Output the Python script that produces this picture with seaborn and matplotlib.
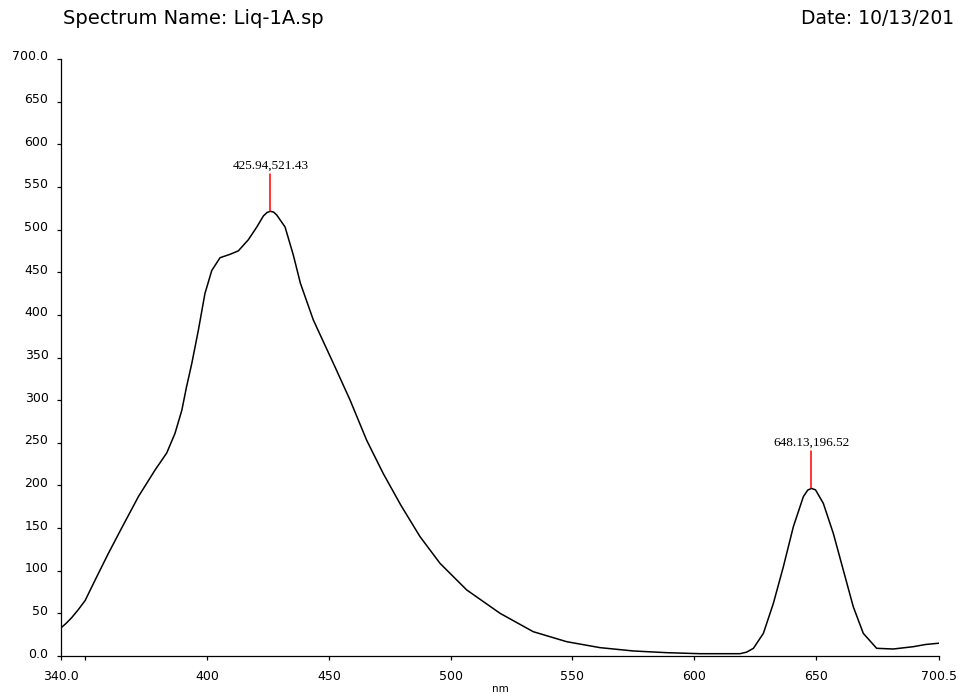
import matplotlib
matplotlib.use("Agg")
import matplotlib.pyplot as plt
import matplotlib.transforms as mtransforms
import seaborn as sns
import pandas as pd

# ---- data ----
wavelength_nm = [340.0, 342.0, 344.4, 347.0, 349.9, 354.0, 359.4, 364.9, 371.8, 378.6,
                 383.4, 386.8, 389.6, 391.5, 393.7, 396.4, 399.1, 401.9, 405.3, 409.4,
                 412.8, 416.9, 420.4, 423.1, 424.6, 425.94, 427.3, 428.6, 432.0, 435.4,
                 438.3, 443.6, 449.1, 452.5, 458.7, 465.5, 472.3, 479.5, 487.4, 495.6,
                 506.6, 520.3, 533.9, 547.6, 561.3, 575.0, 588.7, 602.4, 618.8, 621.5,
                 624.3, 628.4, 632.5, 636.6, 640.7, 644.8, 646.6, 648.13, 649.8, 653.0,
                 657.1, 661.2, 665.3, 669.4, 674.9, 681.7, 689.9, 695.0, 700.5]
intensity = [33.0, 38.0, 45.0, 54.0, 65.0, 89.0, 120.0, 150.0, 187.0, 218.0,
             238.0, 261.0, 288.0, 315.0, 343.0, 382.0, 425.0, 452.0, 467.0, 471.0,
             475.0, 488.0, 503.0, 516.0, 520.0, 521.43, 520.5, 517.0, 503.0, 470.0,
             437.0, 394.0, 360.0, 339.0, 300.0, 253.0, 214.0, 177.0, 140.0, 108.7,
             77.4, 50.0, 28.5, 16.8, 9.8, 5.9, 3.9, 2.7, 2.7, 4.5,
             9.0, 26.6, 61.8, 104.7, 151.6, 186.8, 194.5, 196.52, 194.8, 179.0,
             143.8, 100.8, 57.8, 26.6, 9.0, 8.2, 10.9, 13.5, 15.0]

peak_x = [425.94, 648.13]
peak_y = [521.43, 196.52]
peak_labels = ["425.94,521.43", "648.13,196.52"]

x_ticks = [340.0, 350, 400, 450, 500, 550, 600, 650, 700.5]
x_ticklabels = ["340.0", "", "400", "450", "500", "550", "600", "650", "700.5"]
y_ticks = [0, 50, 100, 150, 200, 250, 300, 350, 400, 450, 500, 550, 600, 650, 700]
y_ticklabels = ["0.0", "50", "100", "150", "200", "250", "300", "350", "400",
                "450", "500", "550", "600", "650", "700.0"]

title_text = "Spectrum Name: Liq-1A.sp"
date_text = "Date: 10/13/201"
x_label = "nm"

# ---- plotting ----
sns.set_style("ticks")
plt.rcParams["font.family"] = ["DejaVu Sans"]
plt.rcParams["text.color"] = "black"
plt.rcParams["axes.labelcolor"] = "black"
plt.rcParams["xtick.color"] = "black"
plt.rcParams["ytick.color"] = "black"

fig = plt.figure(figsize=(9.62, 6.98), dpi=100)
ax = fig.add_axes([61 / 962, 42 / 698, 878 / 962, 597 / 698])

df = pd.DataFrame({"nm": wavelength_nm, "value": intensity})
sns.lineplot(data=df, x="nm", y="value", ax=ax, color="black", linewidth=1.1,
             estimator=None, sort=False)

# peak markers
for px, py, lab in zip(peak_x, peak_y, peak_labels):
    ax.plot([px, px], [py, py + 44], color="red", linewidth=1.1)
    ax.text(px, py + 46, lab, ha="center", va="bottom",
            family="Liberation Serif", fontsize=9.5, color="black")

ax.set_xlim(340.0, 700.5)
ax.set_ylim(0, 700)
ax.set_xticks(x_ticks)
ax.set_xticklabels(x_ticklabels)
ax.set_yticks(y_ticks)
ax.set_yticklabels(y_ticklabels)
ax.tick_params(axis="both", direction="out", length=3, width=0.9, colors="black",
               labelsize=9)
ax.tick_params(axis="x", pad=7)
ax.tick_params(axis="y", pad=6)
ax.set_xlabel(x_label, fontsize=7.5, labelpad=1, color="black")
ax.set_ylabel("")

# raise y tick labels slightly, as in the reference
offset = mtransforms.ScaledTranslation(0, 3.5 / 100, fig.dpi_scale_trans)
for lbl in ax.get_yticklabels():
    lbl.set_transform(lbl.get_transform() + offset)

sns.despine(ax=ax)
for s in ["left", "bottom"]:
    ax.spines[s].set_linewidth(0.9)
    ax.spines[s].set_color("black")

fig.text(63 / 962, 1 - 18 / 698, title_text, fontsize=14, ha="left", va="center",
         color="black")
fig.text(801 / 962, 1 - 18 / 698, date_text, fontsize=13.5, ha="left", va="center",
         color="black")

fig.savefig("out.png", dpi=100)
